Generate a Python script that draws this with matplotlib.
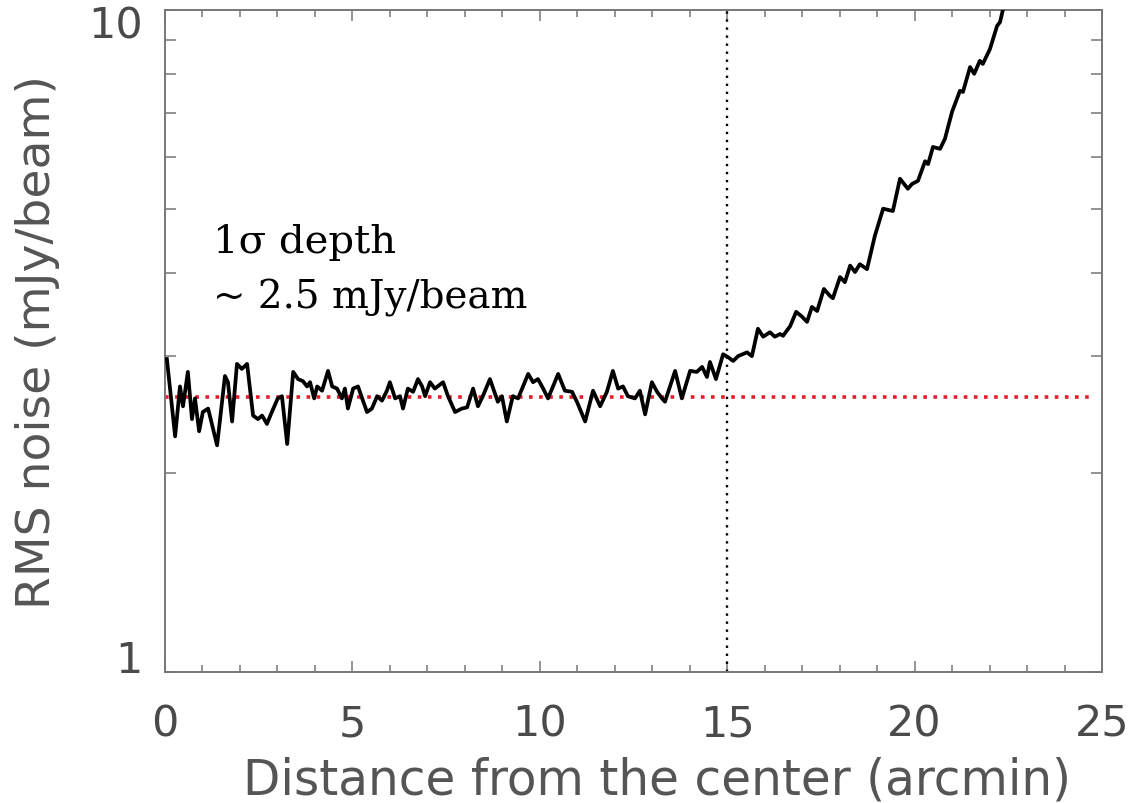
import matplotlib
matplotlib.use("Agg")
import matplotlib.pyplot as plt
import matplotlib.transforms as mtransforms
from matplotlib.ticker import FixedLocator, MultipleLocator, LogLocator, NullFormatter

# ---- data ----
distance = [0.05, 0.27, 0.40, 0.48, 0.61, 0.72, 0.80, 0.91, 1.01, 1.15, 1.39, 1.60, 1.68,
            1.79, 1.92, 2.05, 2.19, 2.35, 2.48, 2.59, 2.72, 2.85, 3.01, 3.12, 3.26, 3.42,
            3.55, 3.68, 3.79, 3.87, 3.98, 4.06, 4.19, 4.35, 4.46, 4.59, 4.72, 4.80, 4.88,
            5.02, 5.15, 5.26, 5.39, 5.52, 5.66, 5.79, 5.92, 6.00, 6.14, 6.27, 6.35, 6.48,
            6.62, 6.75, 6.86, 6.94, 7.07, 7.20, 7.42, 7.55, 7.74, 7.92, 8.06, 8.22, 8.35,
            8.48, 8.67, 8.88, 8.99, 9.12, 9.28, 9.42, 9.69, 9.82, 9.95, 10.09, 10.22, 10.49,
            10.67, 10.86, 10.99, 11.21, 11.42, 11.61, 11.79, 11.95, 12.09, 12.22, 12.35,
            12.54, 12.67, 12.81, 12.99, 13.13, 13.26, 13.34, 13.61, 13.79, 14.01, 14.19,
            14.33, 14.46, 14.54, 14.70, 14.89, 15.02, 15.16, 15.29, 15.53, 15.66, 15.82,
            15.96, 16.14, 16.27, 16.41, 16.49, 16.68, 16.84, 17.00, 17.13, 17.26, 17.40,
            17.58, 17.74, 17.82, 18.01, 18.14, 18.28, 18.41, 18.54, 18.73, 18.94, 19.16,
            19.42, 19.61, 19.82, 19.93, 20.09, 20.28, 20.36, 20.49, 20.68, 20.81, 21.00,
            21.21, 21.29, 21.48, 21.59, 21.74, 21.82, 22.01, 22.20, 22.28, 22.36, 22.45]
rms_noise = [2.97, 2.27, 2.70, 2.52, 2.84, 2.41, 2.59, 2.31, 2.47, 2.50, 2.20, 2.80, 2.74,
             2.39, 2.92, 2.87, 2.92, 2.44, 2.41, 2.44, 2.37, 2.47, 2.59, 2.61, 2.21, 2.84,
             2.77, 2.75, 2.70, 2.74, 2.59, 2.70, 2.66, 2.85, 2.70, 2.68, 2.59, 2.68, 2.50,
             2.68, 2.70, 2.59, 2.47, 2.50, 2.61, 2.57, 2.66, 2.74, 2.59, 2.61, 2.50, 2.68,
             2.65, 2.77, 2.70, 2.61, 2.74, 2.68, 2.74, 2.61, 2.47, 2.50, 2.51, 2.68, 2.52,
             2.61, 2.77, 2.56, 2.61, 2.39, 2.61, 2.59, 2.82, 2.74, 2.77, 2.68, 2.59, 2.82,
             2.66, 2.65, 2.56, 2.39, 2.66, 2.52, 2.65, 2.85, 2.68, 2.70, 2.61, 2.59, 2.66,
             2.45, 2.74, 2.65, 2.59, 2.56, 2.85, 2.59, 2.85, 2.84, 2.89, 2.79, 2.94, 2.77,
             3.02, 2.99, 2.95, 3.00, 3.04, 3.00, 3.30, 3.21, 3.26, 3.21, 3.24, 3.22, 3.33,
             3.50, 3.44, 3.38, 3.56, 3.51, 3.79, 3.70, 3.67, 3.95, 3.88, 4.11, 4.02, 4.13,
             4.06, 4.56, 5.01, 4.97, 5.56, 5.37, 5.46, 5.52, 5.91, 5.85, 6.21, 6.17, 6.39,
             7.02, 7.55, 7.52, 8.20, 8.01, 8.38, 8.29, 8.73, 9.46, 9.59, 10.03, 10.4]
depth_level = 2.6          # red dotted reference level
boundary_distance = 15     # vertical dotted line
x_ticks = [0, 5, 10, 15, 20, 25]
y_ticks = [1, 10]
y_tick_labels = ["1", "10"]

# ---- figure ----
fig = plt.figure(figsize=(11.32, 8.04), dpi=100)
ax = fig.add_axes([165 / 1132, 1 - 673 / 804, (1102 - 165) / 1132, (673 - 11) / 804])

ax.plot(distance, rms_noise, color="black", lw=2.7, solid_joinstyle="round", zorder=3)
ax.axhline(depth_level, xmin=0.0, xmax=0.992, color="#e61e2b", lw=2.6,
           linestyle=(0, (1, 1.8)), zorder=2)
ax.axvline(boundary_distance, color="black", lw=1.7, linestyle=(0, (1, 2.4)), zorder=2)

ax.set_yscale("log")
ax.set_xlim(0, 25)
ax.set_ylim(1, 10)

grey = "#4a4a4a"
ax.xaxis.set_major_locator(FixedLocator(x_ticks))
ax.xaxis.set_minor_locator(MultipleLocator(1))
ax.set_xticklabels([str(t) for t in x_ticks])
ax.yaxis.set_major_locator(FixedLocator(y_ticks))
ax.yaxis.set_minor_locator(LogLocator(base=10, subs=range(2, 10)))
ax.yaxis.set_minor_formatter(NullFormatter())
ax.set_yticklabels(y_tick_labels)

ax.tick_params(axis="both", which="both", direction="in", top=True, right=True,
               color="#777777", width=1.1)
ax.tick_params(axis="x", which="major", length=8, pad=22, labelsize=31, labelcolor=grey)
ax.tick_params(axis="x", which="minor", length=5)
ax.tick_params(axis="y", which="major", length=8, pad=16, labelsize=31, labelcolor=grey)
ax.tick_params(axis="y", which="minor", length=8)

ytl = ax.yaxis.get_major_ticks()
ytl[0].label1.set_va("baseline")
ytl[1].label1.set_va("top")
ytl[1].label1.set_transform(ytl[1].label1.get_transform() +
                            mtransforms.ScaledTranslation(0, 4 / 72, fig.dpi_scale_trans))

for s in ax.spines.values():
    s.set_color("#777777")
    s.set_linewidth(1.4)

ax.set_xlabel("Distance from the center (arcmin)", fontsize=35, color="#555555")
ax.xaxis.set_label_coords(0.525, -0.126)
ax.set_ylabel("RMS noise (mJy/beam)", fontsize=34, color="#555555")
ax.yaxis.set_label_coords(-0.112, 0.5)

trans = mtransforms.blended_transform_factory(ax.transData, ax.transAxes)
ax.text(1.28, 0.634, "1σ depth", transform=trans, fontsize=29,
        family=["DejaVu Serif"], va="baseline", ha="left", color="black")
ax.text(1.28, 0.551, "~ 2.5 mJy/beam", transform=trans, fontsize=28,
        family=["DejaVu Serif"], va="baseline", ha="left", color="black")

fig.savefig("out.png", dpi=100)
